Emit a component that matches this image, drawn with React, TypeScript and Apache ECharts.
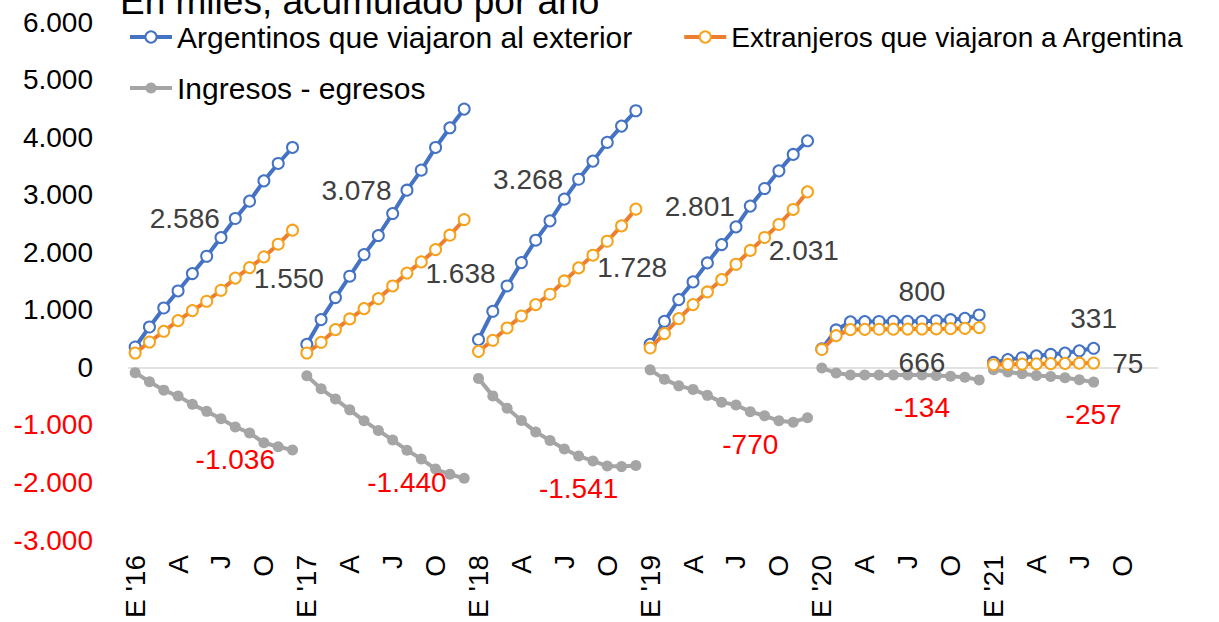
import React, { useEffect, useRef } from 'react';
import * as echarts from 'echarts';

const YEARS = ['16', '17', '18', '19', '20', '21'];
const MONTHS = ['E', 'F', 'M', 'A', 'M', 'J', 'J', 'A', 'S', 'O', 'N', 'D'];

const SERIES_NAMES = [
  'Argentinos que viajaron al exterior',
  'Extranjeros que viajaron a Argentina',
  'Ingresos - egresos',
];

// Argentinos que viajaron al exterior (miles, acumulado)
const egresos16 = [353, 701, 1031, 1327, 1629, 1930, 2255, 2586, 2887, 3240, 3542, 3820];
const egresos17 = [400, 829, 1212, 1583, 1959, 2290, 2672, 3078, 3426, 3820, 4162, 4487];
const egresos18 = [481, 974, 1414, 1820, 2209, 2545, 2922, 3268, 3583, 3908, 4191, 4458];
const egresos19 = [400, 800, 1177, 1484, 1814, 2133, 2440, 2801, 3107, 3414, 3699, 3936];
const egresos20 = [320, 650, 790, 795, 797, 798, 799, 800, 810, 828, 850, 910];
const egresos21 = [85, 134, 167, 200, 224, 248, 287, 331];

// Extranjeros que viajaron a Argentina
const ingresos16 = [249, 440, 626, 812, 986, 1148, 1339, 1550, 1733, 1919, 2139, 2383];
const ingresos17 = [249, 435, 655, 841, 1020, 1194, 1414, 1638, 1832, 2046, 2296, 2568];
const ingresos18 = [278, 470, 684, 892, 1090, 1270, 1501, 1728, 1948, 2191, 2457, 2748];
const ingresos19 = [336, 586, 847, 1090, 1310, 1525, 1791, 2031, 2256, 2482, 2743, 3049];
const ingresos20 = [310, 550, 655, 660, 662, 663, 665, 666, 668, 672, 678, 692];
const ingresos21 = [45, 52, 56, 60, 64, 68, 72, 75];

// Ingresos - egresos
const saldo16 = [-92, -250, -396, -500, -643, -765, -895, -1036, -1140, -1310, -1380, -1435];
const saldo17 = [-145, -374, -551, -739, -930, -1096, -1264, -1440, -1591, -1768, -1858, -1928];
const saldo18 = [-192, -496, -710, -925, -1122, -1272, -1418, -1541, -1626, -1716, -1725, -1707];
const saldo19 = [-44, -205, -322, -383, -487, -605, -655, -770, -843, -927, -953, -875];
const saldo20 = [-10, -100, -135, -135, -135, -135, -134, -134, -142, -156, -172, -218];
const saldo21 = [-40, -82, -111, -140, -160, -180, -215, -257];

const EGRESOS = [egresos16, egresos17, egresos18, egresos19, egresos20, egresos21];
const INGRESOS = [ingresos16, ingresos17, ingresos18, ingresos19, ingresos20, ingresos21];
const SALDO = [saldo16, saldo17, saldo18, saldo19, saldo20, saldo21];

// month (index in year) that carries a data label, and its position per year
const LABEL_MONTH = 7;
const EGRESOS_LABEL_POS = ['left', 'left', 'left', 'left', 'top', 'top'];
const INGRESOS_LABEL_POS = ['right', 'right', 'right', 'right', 'bottom', 'right'];
const SALDO_LABEL_POS = ['bottom', 'bottom', 'bottom', 'bottom', 'bottom', 'bottom'];
const LABEL_DISTANCE: Record<string, number> = { left: 9, right: 12, top: 9, bottom: 13 };

const Y_MIN = -3000;
const Y_MAX = 6000;
const Y_STEP = 1000;

const FONT = "'Liberation Sans', Arial, Helvetica, sans-serif";
const BLUE = '#4472C4';
const ORANGE_LINE = '#ED7D31';
const ORANGE_MARK = '#F7A21B';
const GRAY = '#A5A5A5';

const CATEGORIES = YEARS.flatMap((yy) => MONTHS.map((m) => `${m} '${yy}`));

function fmt(v: number): string {
  const s = Math.abs(Math.round(v)).toString().replace(/\B(?=(\d{3})+(?!\d))/g, '.');
  return (v < 0 ? '-' : '') + s;
}

function buildData(values: number[], yearIdx: number, pos: string, labelColor: string) {
  const arr: any[] = new Array(CATEGORIES.length).fill(null);
  values.forEach((v, m) => {
    if (m === LABEL_MONTH) {
      arr[yearIdx * 12 + m] = {
        value: v,
        label: {
          show: true,
          position: pos,
          distance: LABEL_DISTANCE[pos],
          formatter: (p: any) => fmt(p.value),
          fontSize: 28,
          fontFamily: FONT,
          color: labelColor,
        },
      };
    } else {
      arr[yearIdx * 12 + m] = v;
    }
  });
  return arr;
}

export default function App() {
  const ref = useRef<HTMLDivElement>(null);
  useEffect(() => {
    const chart = echarts.init(ref.current!, null, { renderer: 'svg' });
    const series: any[] = [];
    YEARS.forEach((_, yi) => {
      series.push({
        type: 'line',
        name: SERIES_NAMES[0],
        data: buildData(EGRESOS[yi], yi, EGRESOS_LABEL_POS[yi], '#404040'),
        symbol: 'emptyCircle',
        symbolSize: 11,
        showSymbol: true,
        showAllSymbol: true,
        lineStyle: { color: BLUE, width: 4 },
        itemStyle: { color: BLUE, borderWidth: 1.8 },
        z: 3,
        ...(yi === 0
          ? {
              markLine: {
                silent: true,
                symbol: 'none',
                label: { show: false },
                lineStyle: { color: '#D9D9D9', type: 'solid', width: 1.5 },
                data: [{ yAxis: 0 }],
                z: 1,
              },
            }
          : {}),
      });
      series.push({
        type: 'line',
        name: SERIES_NAMES[1],
        data: buildData(INGRESOS[yi], yi, INGRESOS_LABEL_POS[yi], '#404040'),
        symbol: 'emptyCircle',
        symbolSize: 11,
        showSymbol: true,
        showAllSymbol: true,
        lineStyle: { color: ORANGE_LINE, width: 4 },
        itemStyle: { color: ORANGE_MARK, borderWidth: 1.8 },
        z: 4,
      });
      series.push({
        type: 'line',
        name: SERIES_NAMES[2],
        data: buildData(SALDO[yi], yi, SALDO_LABEL_POS[yi], '#FF0000'),
        symbol: 'circle',
        symbolSize: 11,
        showSymbol: true,
        showAllSymbol: true,
        lineStyle: { color: GRAY, width: 4 },
        itemStyle: { color: GRAY },
        z: 2,
      });
    });

    const legendCommon = {
      left: 128,
      width: 1091,
      padding: 0,
      itemWidth: 42,
      itemHeight: 14,
      itemGap: 50,
      lineStyle: { width: 4 },
      textStyle: { fontSize: 30, color: '#000', fontFamily: FONT },
      selectedMode: false,
    };

    chart.setOption({
      animation: false,
      backgroundColor: '#fff',
      graphic: [
        {
          type: 'text',
          x: 120,
          y: 20,
          style: {
            text: 'En miles, acumulado por año',
            fontSize: 37,
            fontFamily: FONT,
            fill: '#000',
            verticalAlign: 'bottom',
          },
        },
      ],
      legend: [
        {
          ...legendCommon,
          top: 22,
          data: [
            { name: SERIES_NAMES[0], textStyle: { fontSize: 30 } },
            { name: SERIES_NAMES[1], textStyle: { fontSize: 28 } },
          ],
        },
        { ...legendCommon, top: 73, data: [SERIES_NAMES[2]] },
      ],
      grid: { left: 128, right: 61, top: 22, bottom: 82, containLabel: false },
      xAxis: {
        type: 'category',
        data: CATEGORIES,
        boundaryGap: true,
        axisLine: { show: false },
        axisTick: { show: false },
        axisLabel: {
          interval: 2,
          rotate: 90,
          margin: 15,
          fontSize: 28,
          fontFamily: FONT,
          color: '#000',
          formatter: (v: string, i: number) => (i % 12 === 0 ? v : v.split(' ')[0]),
        },
      },
      yAxis: {
        type: 'value',
        min: Y_MIN,
        max: Y_MAX,
        interval: Y_STEP,
        splitLine: { show: false },
        axisLine: { show: false },
        axisTick: { show: false },
        axisLabel: {
          margin: 35,
          fontSize: 28,
          fontFamily: FONT,
          formatter: (v: number) => (v < 0 ? `{n|${fmt(v)}}` : `{p|${fmt(v)}}`),
          rich: {
            n: { color: '#FF0000', fontSize: 28, fontFamily: FONT },
            p: { color: '#000', fontSize: 28, fontFamily: FONT },
          },
        },
      },
      series,
    });
    return () => chart.dispose();
  }, []);
  return (
    <div
      ref={ref}
      style={{ position: 'fixed', left: 0, top: 0, width: 1219, height: 622 }}
    />
  );
}
